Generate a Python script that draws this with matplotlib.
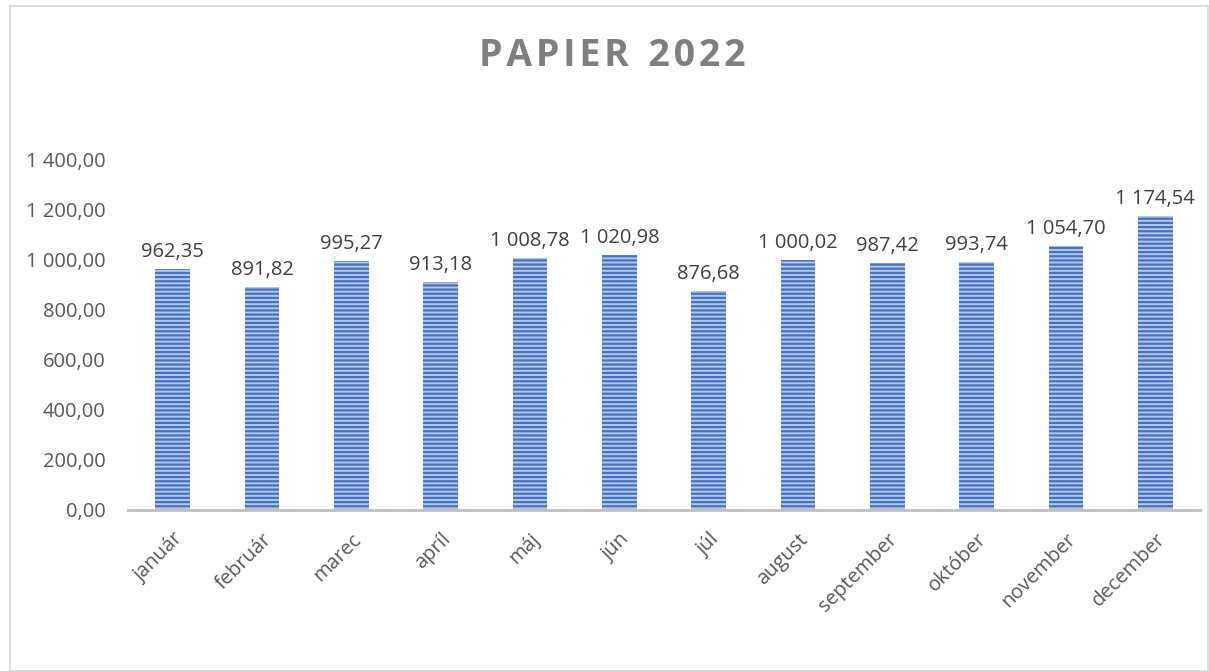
import matplotlib.pyplot as plt
from matplotlib.patches import Rectangle

months = ['január', 'február', 'marec', 'apríl', 'máj', 'jún', 'júl',
          'august', 'september', 'október', 'november', 'december']
values = [962.35, 891.82, 995.27, 913.18, 1008.78, 1020.98, 876.68,
          1000.02, 987.42, 993.74, 1054.70, 1174.54]
yticks = [0, 200, 400, 600, 800, 1000, 1200, 1400]


def fmt(v):
    s = f'{v:,.2f}'
    return s.replace(',', ' ').replace('.', ',')


plt.rcParams['font.family'] = ['Open Sans', 'DejaVu Sans']
plt.rcParams['hatch.linewidth'] = 1.6

fig = plt.figure(figsize=(12.09, 6.71), dpi=100)
fig.patches.append(Rectangle((10 / 1209, 0.0), 1 - 11 / 1209, 1 - 6 / 671,
                             transform=fig.transFigure, fill=False,
                             edgecolor='#D9D9D9', linewidth=1.2))

ax = fig.add_axes([128 / 1209, 1 - 510 / 671, 1072 / 1209, 350 / 671])
x = range(len(months))
bars = ax.bar(x, values, width=0.39, color='#B4C7E7', edgecolor='#4472C4',
              linewidth=0, hatch='----')

for xi, v in zip(x, values):
    ax.annotate(fmt(v), (xi, v), xytext=(0, 5), textcoords='offset points',
                ha='center', va='bottom', fontsize=14.5, color='#404040')

ax.set_ylim(0, 1400)
ax.set_xlim(-0.5, len(months) - 0.5)
ax.set_yticks(yticks)
ax.set_yticklabels([fmt(t) for t in yticks], fontsize=14.5, color='#595959')
ax.set_xticks(list(x))
ax.set_xticklabels(months, rotation=45, ha='right', rotation_mode='anchor',
                   fontsize=14.5, color='#595959')
ax.tick_params(axis='both', length=0)
ax.tick_params(axis='y', pad=16)
ax.tick_params(axis='x', pad=14)
for side in ['top', 'right', 'left']:
    ax.spines[side].set_visible(False)
ax.spines['bottom'].set_color('#BFBFBF')
ax.spines['bottom'].set_linewidth(2)

fig.text(612 / 1209, 1 - 56 / 671, '\u200a'.join('PAPIER') + '  ' + '\u200a'.join('2022'),
         ha='center', va='center', fontsize=27, fontweight='bold',
         color='#7F7F7F')

fig.savefig('out.png', dpi=100)
